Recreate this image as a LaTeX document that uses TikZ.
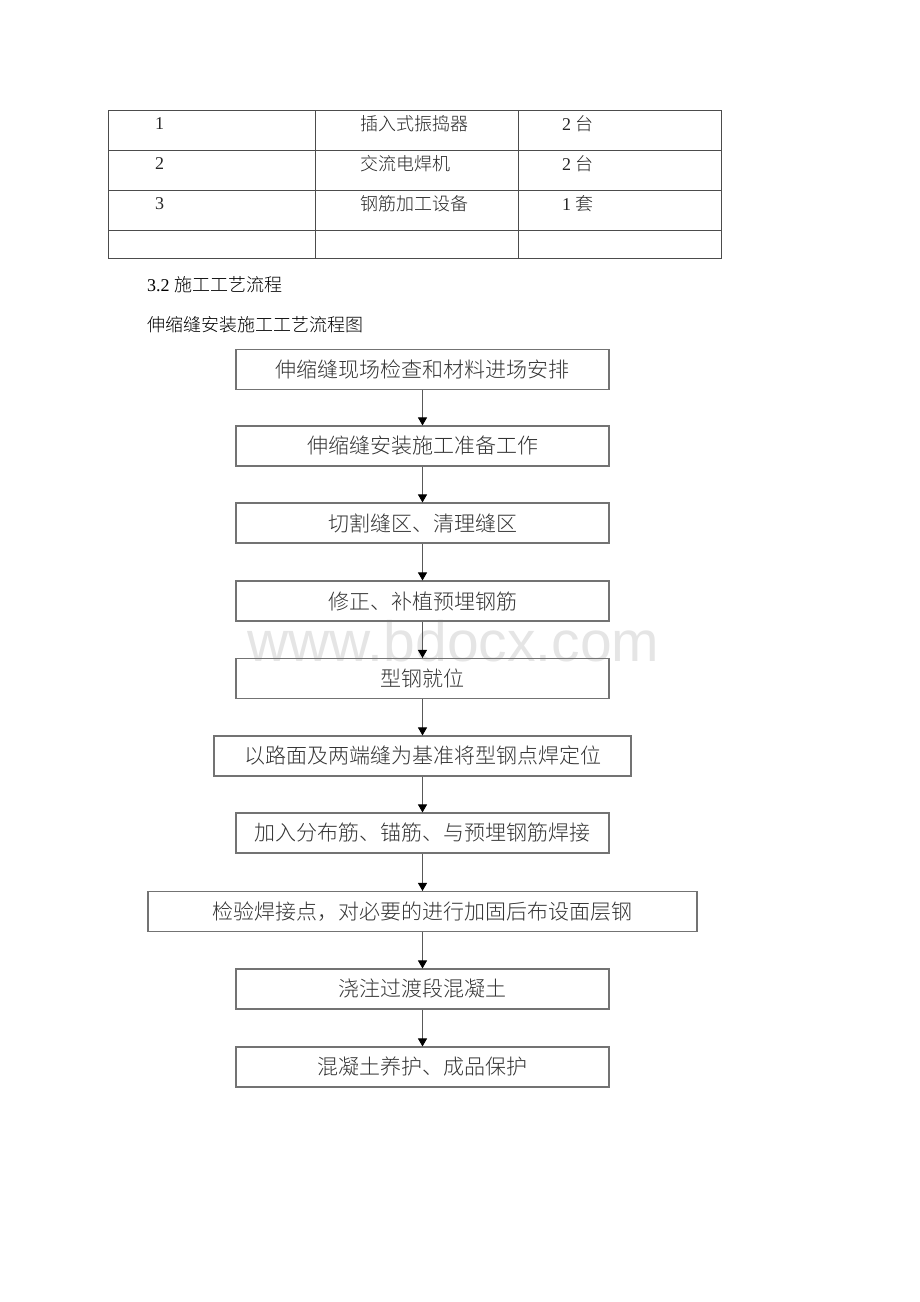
\documentclass[tikz,border=0pt]{standalone}
\usepackage{fontspec}
\setmainfont{Liberation Serif}
\setsansfont{Liberation Sans}
\newfontfamily\cjk{Noto Sans CJK SC Light}
\usetikzlibrary{arrows.meta}
\tikzset{
  stepbox/.style={draw=black!55,line width=1.1pt,minimum height=40pt,minimum width=373pt,inner sep=0pt,
    text=black!80,font=\cjk\fontsize{21}{21}\selectfont},
  cell/.style={anchor=west,inner sep=0pt,text=black!85,font=\fontsize{18}{18}\selectfont},
  grid/.style={draw=black!70,line width=1pt}
}
\begin{document}
\begin{tikzpicture}[x=1pt,y=-1pt,>={Triangle[length=8pt,width=9pt,color=black]}]
\useasboundingbox (0,0) rectangle (920,1302);
\node[anchor=base,inner sep=0pt,text=black!10,font=\sffamily\fontsize{57}{57}\selectfont] (mark) at (453.5,661) {www.bdocx.com};
\draw[grid] (108,110) rectangle (721,258);
\foreach \y in {150,190,230} \draw[grid] (108,\y) -- (721,\y);
\foreach \x in {315,518} \draw[grid] (\x,110) -- (\x,258);
\node[cell] (n1) at (155,124) {1};
\node[cell] (n2) at (155,164) {2};
\node[cell] (n3) at (155,204) {3};
\node[cell] (e1) at (360,124) {\cjk 插入式振捣器};
\node[cell] (e2) at (360,164) {\cjk 交流电焊机};
\node[cell] (e3) at (360,204) {\cjk 钢筋加工设备};
\node[cell] (q1) at (562,124) {2 {\cjk 台}};
\node[cell] (q2) at (562,164) {2 {\cjk 台}};
\node[cell] (q3) at (562,204) {1 {\cjk 套}};
\node[cell,text=black] (sec) at (147,285) {3.2 {\cjk 施工工艺流程}};
\node[cell,text=black,font=\cjk\fontsize{18}{18}\selectfont] (title) at (147,325) {伸缩缝安装施工工艺流程图};
\node[stepbox] (s1) at (422.5,369.5) {伸缩缝现场检查和材料进场安排};
\node[stepbox] (s2) at (422.5,446) {伸缩缝安装施工准备工作};
\node[stepbox] (s3) at (422.5,523) {切割缝区、清理缝区};
\node[stepbox] (s4) at (422.5,601) {修正、补植预埋钢筋};
\node[stepbox] (s5) at (422.5,678.5) {型钢就位};
\node[stepbox,minimum width=417pt] (s6) at (422.5,756) {以路面及两端缝为基准将型钢点焊定位};
\node[stepbox] (s7) at (422.5,833) {加入分布筋、锚筋、与预埋钢筋焊接};
\node[stepbox,minimum width=549pt] (s8) at (422.5,911.5) {检验焊接点，对必要的进行加固后布设面层钢};
\node[stepbox] (s9) at (422.5,989) {浇注过渡段混凝土};
\node[stepbox] (s10) at (422.5,1067) {混凝土养护、成品保护};
\foreach \a/\b in {s1/s2,s2/s3,s3/s4,s4/s5,s5/s6,s6/s7,s7/s8,s8/s9,s9/s10}
  \draw[->,draw=black!65,line width=0.9pt] (\a) -- (\b);
\end{tikzpicture}
\end{document}
